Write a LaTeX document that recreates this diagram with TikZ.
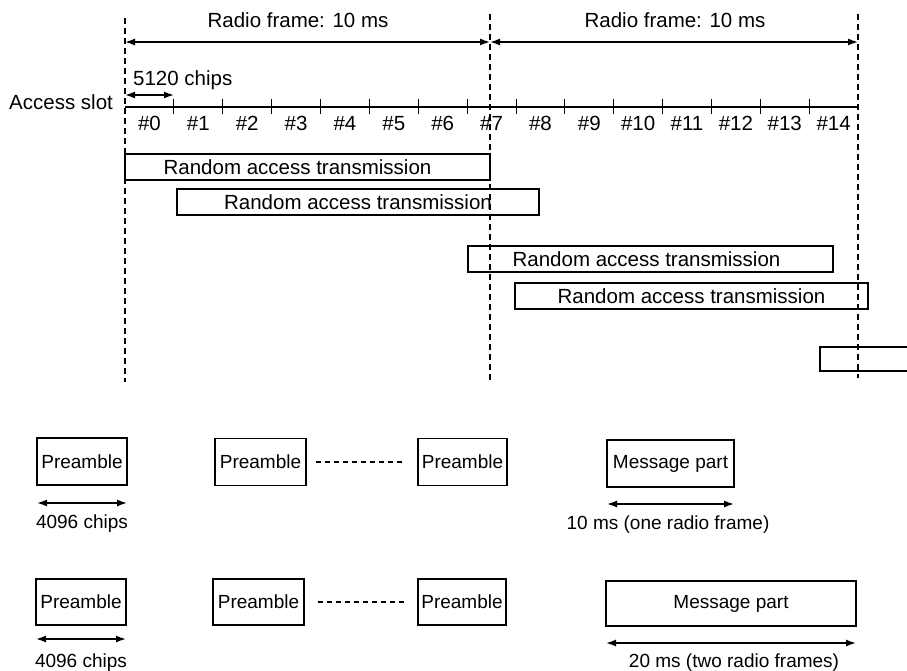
\documentclass[tikz,border=0pt]{standalone}
\usepackage{fontspec}
\setmainfont{Liberation Sans}
\usetikzlibrary{arrows.meta}
\begin{document}
\begin{tikzpicture}[x=1pt,y=-1pt,
  bigtxt/.style={font=\fontsize{20.5}{24}\selectfont},
  smalltxt/.style={font=\fontsize{19}{22}\selectfont},
  every node/.style={inner sep=0pt},
  rabox/.style={draw, line width=1.4pt, minimum height=26pt, bigtxt},
  pbox/.style={draw, line width=1.4pt, minimum height=47pt, smalltxt},
  guide/.style={line width=1.4pt, dash pattern=on 6pt off 4pt},
  dimarrow/.style={line width=1.4pt, {Latex[length=10pt,width=7pt]}-{Latex[length=10pt,width=7pt]}},
  dotline/.style={line width=1.1pt, dash pattern=on 5pt off 4pt},
  slotline/.style={line width=1.7pt},
  tickmark/.style={line width=0.9pt},
]
\useasboundingbox (0,0) rectangle (907,671);
\begin{scope}
\clip (0,0) rectangle (907,671);

% coordinates of frame boundaries
\coordinate (g0t) at (125,18);  \coordinate (g0b) at (125,382);
\coordinate (g1t) at (490,14);  \coordinate (g1b) at (490,382);
\coordinate (g2t) at (858,14);  \coordinate (g2b) at (858,378);

% radio frame arrows
\coordinate (f0) at (125,42);
\coordinate (f1) at (490,42);
\coordinate (f2) at (858,42);
\draw[dimarrow] (f0) -- (f1);
\draw[dimarrow] (f1) -- (f2);
\node[bigtxt, anchor=base] (rf1) at (298,28) {Radio frame: 10 ms};
\node[bigtxt, anchor=base] (rf2) at (675,28) {Radio frame: 10 ms};

% 5120 chips
\coordinate (c0) at (125,95);
\coordinate (c1) at (174,95);
\draw[dimarrow] (c0) -- (c1);
\node[bigtxt, anchor=base west] (chips) at (133,86) {5120 chips};

% access slot line
\node[bigtxt, anchor=base west] (as) at (9,110) {Access slot};
\coordinate (s0) at (125,107);
\coordinate (s15) at (858,107);
\draw[slotline] (s0) -- (s15);
\foreach \k in {1,...,14} {
  \draw[tickmark] (125+48.87*\k,99) -- (125+48.87*\k,114);
}
\foreach \k in {0,...,14} {
  \node[bigtxt, anchor=base] (sl\k) at (125+48.87*\k+48.87/2,131) {\#\k};
}

% random access transmissions
\node[rabox, minimum width=365pt] (ra1) at (307.5,167) {\hspace*{-20pt}Random access transmission};
\node[rabox, minimum width=362pt] (ra2) at (358,202) {Random access transmission};
\node[rabox, minimum width=365pt] (ra3) at (650.5,259) {\hspace*{-8pt}Random access transmission};
\node[rabox, minimum width=353pt] (ra4) at (691.5,296) {Random access transmission};
\node[rabox, minimum width=100pt, minimum height=24pt] (ra5) at (870,359) {};

% guide lines on top
\draw[guide] (g0t) -- (g0b);
\draw[guide] (g1t) -- (g1b);
\draw[guide] (g2t) -- (g2b);

% ---- structure with one-frame message
\node[pbox, minimum width=90pt] (p1) at (82,461.5) {Preamble};
\node[pbox, minimum width=91pt] (p2) at (260.5,462) {Preamble};
\node[pbox, minimum width=89pt] (p3) at (462.5,462) {Preamble};
\node[pbox, minimum width=127pt] (m1) at (670.5,463.5) {Message part};
\draw[dotline] ([xshift=9pt]p2.east) -- ([xshift=-12pt]p3.west);
\coordinate (a1l) at (37,503);  \coordinate (a1r) at (127,503);
\draw[dimarrow] (a1l) -- (a1r);
\node[smalltxt, anchor=base] (t1) at (82,528) {4096 chips};
\coordinate (a2l) at (607,504);  \coordinate (a2r) at (734,504);
\draw[dimarrow] (a2l) -- (a2r);
\node[smalltxt, anchor=base] (t2) at (668,529) {10 ms (one radio frame)};

% ---- structure with two-frame message
\node[pbox, minimum width=90pt, minimum height=46pt] (q1) at (81,602) {Preamble};
\node[pbox, minimum width=91pt, minimum height=46pt] (q2) at (258.5,602) {Preamble};
\node[pbox, minimum width=88pt, minimum height=46pt] (q3) at (462,602) {Preamble};
\node[pbox, minimum width=250pt, minimum height=45pt] (m2) at (731,603.5) {Message part};
\draw[dotline] ([xshift=13pt]q2.east) -- ([xshift=-10pt]q3.west);
\coordinate (b1l) at (36,639);  \coordinate (b1r) at (126,639);
\draw[dimarrow] (b1l) -- (b1r);
\node[smalltxt, anchor=base] (t3) at (81,667) {4096 chips};
\coordinate (b2l) at (606,643);  \coordinate (b2r) at (856,643);
\draw[dimarrow] (b2l) -- (b2r);
\node[smalltxt, anchor=base] (t4) at (734,667) {20 ms (two radio frames)};
\end{scope}
\end{tikzpicture}
\end{document}
